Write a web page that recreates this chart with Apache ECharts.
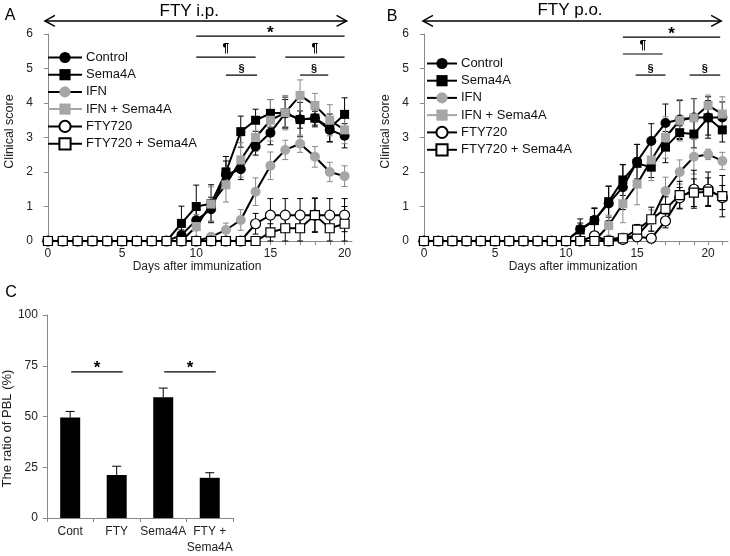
<!DOCTYPE html>
<html><head><meta charset="utf-8">
<script src="https://cdn.jsdelivr.net/npm/echarts@6/dist/echarts.min.js"></script>
<style>html,body{margin:0;padding:0;background:#fff}#c{width:730px;height:556px}</style>
</head><body><div id="c"></div>
<script>
// ---------- DATA ----------
const names = ['Control','Sema4A','IFN','IFN + Sema4A','FTY720','FTY720 + Sema4A'];
const daysA = [0,1,2,3,4,5,6,7,8,9,10,11,12,13,14,15,16,17,18,19,20];
const daysB = [0,1,2,3,4,5,6,7,8,9,10,11,12,13,14,15,16,17,18,19,20,21];

// Panel A (FTY i.p.)
const A_control     = [0,0,0,0,0,0,0,0,0,0.17,0.6,0.92,1.92,2.08,2.74,3.14,3.7,3.52,3.56,3.22,3.05];
const A_control_err = [0,0,0,0,0,0,0,0,0,0.15,0.3,0.35,0.4,0.3,0.25,0.35,0.4,0.25,0.2,0.35,0.35];
const A_sema        = [0,0,0,0,0,0,0,0,0,0.51,1.0,1.08,2.0,3.17,3.5,3.7,3.72,3.52,3.56,3.28,3.67];
const A_sema_err    = [0,0,0,0,0,0,0,0,0,0.5,0.62,0.55,0.45,0.45,0.32,0.4,0.45,0.5,0.25,0.4,0.48];
const A_ifn         = [0,0,0,0,0,0,0,0,0,0,0,0.12,0.32,0.61,1.43,2.18,2.64,2.82,2.44,2.0,1.88];
const A_ifn_err     = [0,0,0,0,0,0,0,0,0,0,0,0.1,0.2,0.3,0.4,0.4,0.28,0.25,0.3,0.28,0.3];
const A_ifnsema     = [0,0,0,0,0,0,0,0,0,0,0.42,1.07,1.63,2.35,3.0,3.5,3.72,4.22,3.93,3.5,3.22];
const A_ifnsema_err = [0,0,0,0,0,0,0,0,0,0,0.35,0.5,0.5,0.5,0.4,0.6,0.5,0.45,0.35,0.45,0.4];
const A_fty         = [0,0,0,0,0,0,0,0,0,0,0,0,0,0,0.5,0.75,0.75,0.75,0.75,0.75,0.75];
const A_fty_err     = [0,0,0,0,0,0,0,0,0,0,0,0,0,0,0.3,0.48,0.48,0.48,0.48,0.48,0.48];
const A_ftysema     = [0,0,0,0,0,0,0,0,0,0,0,0,0,0,0,0.25,0.37,0.37,0.75,0.37,0.5];
const A_ftysema_err = [0,0,0,0,0,0,0,0,0,0,0,0,0,0,0,0.25,0.37,0.37,0.5,0.37,0.5];

// Panel B (FTY p.o.)
const B_control     = [0,0,0,0,0,0,0,0,0,0,0,0.34,0.61,1.09,1.56,2.3,2.9,3.42,3.52,3.58,3.58,3.58];
const B_control_err = [0,0,0,0,0,0,0,0,0,0,0,0.3,0.35,0.5,0.65,0.5,0.5,0.55,0.55,0.55,0.6,0.45];
const B_sema        = [0,0,0,0,0,0,0,0,0,0,0,0.32,0.59,1.14,1.77,2.25,2.14,2.72,3.14,3.1,3.57,3.22];
const B_sema_err    = [0,0,0,0,0,0,0,0,0,0,0,0.2,0.35,0.45,0.45,0.55,0.3,0.45,0.2,0.4,0.5,0.35];
const B_ifn         = [0,0,0,0,0,0,0,0,0,0,0,0,0,0.05,0.1,0.15,0.6,1.45,2.0,2.44,2.51,2.32];
const B_ifn_err     = [0,0,0,0,0,0,0,0,0,0,0,0,0,0,0.05,0.1,0.3,0.4,0.35,0.5,0.15,0.25];
const B_ifnsema     = [0,0,0,0,0,0,0,0,0,0,0,0,0,0.45,1.08,1.65,2.35,3.0,3.5,3.57,3.93,3.68];
const B_ifnsema_err = [0,0,0,0,0,0,0,0,0,0,0,0,0,0.3,0.55,0.6,0.6,0.6,0.6,0.55,0.3,0.5];
const B_fty         = [0,0,0,0,0,0,0,0,0,0,0,0,0.15,0,0.05,0.12,0.08,0.58,1.25,1.5,1.5,1.26];
const B_fty_err     = [0,0,0,0,0,0,0,0,0,0,0,0,0.1,0,0.05,0.1,0.1,0.2,0.3,0.55,0.5,0.35];
const B_ftysema     = [0,0,0,0,0,0,0,0,0,0,0,0,0,0,0.08,0.33,0.63,0.93,1.33,1.4,1.43,1.3];
const B_ftysema_err = [0,0,0,0,0,0,0,0,0,0,0,0,0,0,0.05,0.15,0.35,0.35,0.4,0.4,0.4,0.6];

// Panel C
const C_cats = ['Cont','FTY','Sema4A','FTY +\nSema4A'];
const C_vals = [49.5,21.2,59.5,19.8];
const C_err  = [3.0,4.3,4.5,2.5];

// Tick labels
const A_ticks = [0,1,2,3,4,5,6,7,8,9,10,11,12,13,14,15,16,17,18,19,20];
const B_ticks = [0,1,2,3,4,5,6,7,8,9,10,11,12,13,14,15,16,17,18,19,20,21];
const X_labels = [0,5,10,15,20];

// Significance annotations [from, to, y, mark]
const sigA = [[10,20,5.94,'*'],[10,14,5.33,'¶'],[16,20,5.33,'¶'],[12,14.1,4.81,'§'],[17,18.9,4.81,'§']];
const sigB = [[14,20.85,5.91,'*'],[14,16.8,5.42,'¶'],[14.9,17,4.81,'§'],[18.7,20.85,4.81,'§']];
const sigC = [[0,1,72,'*'],[2,3,72,'*']];

// ---------- CHART ----------
const FONT = 'Liberation Sans, Arial, sans-serif';
const GRAY = '#a6a6a6';
const chart = echarts.init(document.getElementById('c'), null, {renderer:'canvas'});

const styles = [
  {symbol:'circle', size:10, fill:'#000', border:0, errColor:'#000'},
  {symbol:'rect', size:9, fill:'#000', border:0, errColor:'#000'},
  {symbol:'circle', size:10, fill:GRAY, border:0, errColor:'#888'},
  {symbol:'rect', size:9, fill:GRAY, border:0, errColor:'#888'},
  {symbol:'circle', size:10, fill:'#fff', border:1.2, errColor:'#000'},
  {symbol:'rect', size:9, fill:'#fff', border:1.2, errColor:'#000'}
];

function lineSeries(gi, idx, days, vals){
  const s = styles[idx];
  return {type:'line', name:names[idx], xAxisIndex:gi, yAxisIndex:gi,
    data: days.map((d,i)=>[d, vals[i]]), symbol:s.symbol, symbolSize:s.size, showAllSymbol:true,
    itemStyle:{color:s.fill, borderColor:'#000', borderWidth:s.border},
    lineStyle:{color:'#000', width:2}, z:3, animation:false, silent:true};
}
function errSeries(gi, color, xs, vals, errs, upperOnly, capW){
  const data = xs.map((d,i)=>[d, vals[i], errs[i]]).filter(p=>p[2]>0);
  return {type:'custom', xAxisIndex:gi, yAxisIndex:gi, silent:true, z:2, animation:false,
    data, encode:{x:0, y:1},
    renderItem(params, api){
      const x = api.value(0), v = api.value(1), e = api.value(2);
      const top = api.coord([x, v+e]);
      const bot = api.coord([x, upperOnly ? v : v-e]);
      const w = capW/2;
      const st = {stroke:color, lineWidth:1};
      const ch = [
        {type:'line', shape:{x1:top[0],y1:top[1],x2:bot[0],y2:bot[1]}, style:st},
        {type:'line', shape:{x1:top[0]-w,y1:top[1],x2:top[0]+w,y2:top[1]}, style:st}
      ];
      if(!upperOnly) ch.push({type:'line', shape:{x1:bot[0]-w,y1:bot[1],x2:bot[0]+w,y2:bot[1]}, style:st});
      return {type:'group', children:ch};
    }};
}

const Aset = [[A_control,A_control_err],[A_sema,A_sema_err],[A_ifn,A_ifn_err],[A_ifnsema,A_ifnsema_err],[A_fty,A_fty_err],[A_ftysema,A_ftysema_err]];
const Bset = [[B_control,B_control_err],[B_sema,B_sema_err],[B_ifn,B_ifn_err],[B_ifnsema,B_ifnsema_err],[B_fty,B_fty_err],[B_ftysema,B_ftysema_err]];

const series = [];
Aset.forEach((p,i)=>series.push(errSeries(0, styles[i].errColor, daysA, p[0], p[1], false, 6)));
Aset.forEach((p,i)=>series.push(lineSeries(0, i, daysA, p[0])));
Bset.forEach((p,i)=>series.push(errSeries(1, styles[i].errColor, daysB, p[0], p[1], false, 6)));
Bset.forEach((p,i)=>series.push(lineSeries(1, i, daysB, p[0])));
series.push({type:'bar', name:'PBL', xAxisIndex:2, yAxisIndex:2, data:C_vals, barWidth:20,
  itemStyle:{color:'#000'}, animation:false, silent:true, z:2});
series.push(errSeries(2, '#000', C_vals.map((v,i)=>i), C_vals, C_err, true, 9));

const axisLineStyle = {color:'#888', width:1};
const labelStyle = {color:'#222', fontSize:12, fontFamily:FONT};
function xValAxis(gi, min, max, ticks){
  return {type:'value', gridIndex:gi, min, max,
    axisLine:{show:true, onZero:false, lineStyle:axisLineStyle},
    axisTick:{show:true, length:4, inside:false, lineStyle:axisLineStyle, customValues:ticks},
    axisLabel:Object.assign({margin:7, customValues:X_labels}, labelStyle),
    splitLine:{show:false},
    name:'Days after immunization', nameLocation:'middle', nameGap:17,
    nameTextStyle:{color:'#222', fontSize:12, fontFamily:FONT}};
}
function yValAxis(gi, max, interval, name, gap, size, pad){
  return {type:'value', gridIndex:gi, min:0, max, interval,
    axisLine:{show:true, lineStyle:axisLineStyle},
    axisTick:{show:true, length:4, lineStyle:axisLineStyle},
    axisLabel:Object.assign({margin:9}, labelStyle),
    splitLine:{show:false},
    name, nameLocation:'middle', nameGap:gap,
    nameTextStyle:{color:'#222', fontSize:size, fontFamily:FONT, padding:pad}};
}

function legendFor(left, top, itemWidth){
  return {left, top, orient:'vertical', itemWidth, itemHeight:14, itemGap:4.2,
    selectedMode:false, textStyle:{color:'#111', fontSize:13, fontFamily:FONT, padding:[0,0,0,-1]},
    data: names.map((n,i)=> i===3 ? {name:n, lineStyle:{color:GRAY, width:2}} : {name:n, lineStyle:{color:'#000', width:2}})};
}

const option = {
  backgroundColor:'#fff',
  animation:false,
  textStyle:{fontFamily:FONT},
  grid:[
    {left:42, top:34, width:310, height:207, containLabel:false},
    {left:418, top:34, width:310, height:207, containLabel:false},
    {left:41, top:315, width:192, height:206, containLabel:false}
  ],
  xAxis:[
    xValAxis(0, -0.4, 20.5, A_ticks),
    xValAxis(1, -0.42, 21.4, B_ticks),
    {type:'category', gridIndex:2, data:C_cats,
      axisLine:{show:true, lineStyle:axisLineStyle},
      axisTick:{show:true, length:4, lineStyle:axisLineStyle},
      axisLabel:Object.assign({margin:6, lineHeight:16, interval:0}, labelStyle)}
  ],
  yAxis:[
    yValAxis(0, 6, 1, 'Clinical score', 26, 12.5, [0,0,0,12]),
    yValAxis(1, 6, 1, 'Clinical score', 26, 12.5, [0,0,0,12]),
    yValAxis(2, 100, 25, 'The ratio of PBL (%)', 29, 13, [0,24,0,0])
  ],
  legend:[legendFor(42, 46, 34), legendFor(421, 52, 30)],
  series
};
chart.setOption(option);

// ---------- ANNOTATIONS ----------
const g = [];
function txt(x, y, s, size, bold){
  g.push({type:'text', x, y, style:{text:s, fontSize:size, fontFamily:FONT, fontWeight:bold?'bold':'normal',
    fill:'#000', textAlign:'center', textVerticalAlign:'middle'}, silent:true});
}
function seg(x1,y1,x2,y2,w){
  g.push({type:'line', shape:{x1,y1,x2,y2}, style:{stroke:'#000', lineWidth:w||1.2}, silent:true});
}
function arrow(x1, x2, y){
  seg(x1, y, x2, y, 1.5);
  g.push({type:'polyline', shape:{points:[[x1+10,y-5.5],[x1,y],[x1+10,y+5.5]]}, style:{stroke:'#000', lineWidth:1.5, fill:null}, silent:true});
  g.push({type:'polyline', shape:{points:[[x2-10,y-5.5],[x2,y],[x2-10,y+5.5]]}, style:{stroke:'#000', lineWidth:1.5, fill:null}, silent:true});
}
function sig(gi, list){
  list.forEach(([a,b,y,m])=>{
    const p1 = chart.convertToPixel({gridIndex:gi}, [a,y]);
    const p2 = chart.convertToPixel({gridIndex:gi}, [b,y]);
    seg(p1[0], p1[1], p2[0], p2[1], 1.2);
    const cx = (p1[0]+p2[0])/2;
    if(m==='*') txt(cx, p1[1]-3, m, 17, true);
    else if(m==='¶') txt(cx, p1[1]-8, m, 12, true);
    else txt(cx, p1[1]-6, m, 11, true);
  });
}
sig(0, sigA);
sig(1, sigB);
sigC.forEach(([a,b,y,m])=>{
  const p1 = chart.convertToPixel({gridIndex:2}, [a,y]);
  const p2 = chart.convertToPixel({gridIndex:2}, [b,y]);
  const x1 = p1[0]+1, x2 = p2[0]+6;
  seg(x1, p1[1], x2, p2[1], 1.2);
  txt((x1+x2)/2, p1[1]-4, m, 17, true);
});
// arrows and titles
const aL = chart.convertToPixel({gridIndex:0}, [0,6.38]);
const aR = chart.convertToPixel({gridIndex:0}, [20,6.38]);
arrow(aL[0]-3, aR[0]+2, aL[1]);
txt((aL[0]+aR[0])/2-7, 11, 'FTY i.p.', 17, false);
const bL = chart.convertToPixel({gridIndex:1}, [0,6.38]);
const bR = chart.convertToPixel({gridIndex:1}, [20.85,6.38]);
arrow(bL[0]-1, bR[0]+1, bL[1]);
txt(570, 10, 'FTY p.o.', 17, false);
txt(10, 16, 'A', 16, false);
txt(392, 17, 'B', 16, false);
txt(11, 293, 'C', 16, false);
chart.setOption({graphic:g});
</script></body></html>
